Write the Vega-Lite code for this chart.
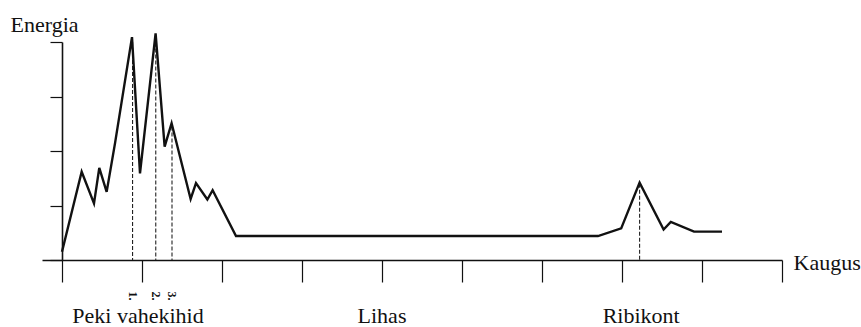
{
  "$schema": "https://vega.github.io/schema/vega-lite/v6.json",
  "width": 740,
  "height": 218,
  "autosize": {"type": "none"},
  "padding": {"left": 42, "top": 42, "right": 79, "bottom": 67},
  "background": "white",
  "config": {"view": {"stroke": null}, "font": "Liberation Serif"},
  "datasets": {
    "profile": [
      {"distance": 0, "energy": 0.15},
      {"distance": 0.246, "energy": 1.62},
      {"distance": 0.4, "energy": 1.04},
      {"distance": 0.466, "energy": 1.69},
      {"distance": 0.558, "energy": 1.25},
      {"distance": 0.6625, "energy": 2.14},
      {"distance": 0.875, "energy": 4.09},
      {"distance": 0.975, "energy": 1.59},
      {"distance": 1.17, "energy": 4.16},
      {"distance": 1.283, "energy": 2.08},
      {"distance": 1.37, "energy": 2.51},
      {"distance": 1.608, "energy": 1.12},
      {"distance": 1.675, "energy": 1.41},
      {"distance": 1.817, "energy": 1.11},
      {"distance": 1.883, "energy": 1.28},
      {"distance": 2.175, "energy": 0.44},
      {"distance": 6.7, "energy": 0.44},
      {"distance": 6.99, "energy": 0.58},
      {"distance": 7.22, "energy": 1.42},
      {"distance": 7.52, "energy": 0.56},
      {"distance": 7.61, "energy": 0.7},
      {"distance": 7.9, "energy": 0.52},
      {"distance": 8.25, "energy": 0.52}
    ],
    "markers": [
      {"distance": 0.882, "energy": 4.0, "label": "1."},
      {"distance": 1.172, "energy": 4.1, "label": "2."},
      {"distance": 1.375, "energy": 2.45, "label": "3."},
      {"distance": 7.22, "energy": 1.4, "label": ""}
    ],
    "regions": [
      {"distance": 0.95, "name": "Peki vahekihid"},
      {"distance": 4.0, "name": "Lihas"},
      {"distance": 7.24, "name": "Ribikont"}
    ]
  },
  "layer": [
    {
      "data": {"name": "markers"},
      "mark": {"type": "rule", "strokeDash": [4, 2], "color": "#222", "strokeWidth": 1.1},
      "encoding": {
        "x": {"field": "distance", "type": "quantitative"},
        "y": {"field": "energy", "type": "quantitative"},
        "y2": {"datum": 0}
      }
    },
    {
      "data": {"name": "profile"},
      "mark": {"type": "line", "color": "#111", "strokeWidth": 2.4, "strokeJoin": "miter"},
      "encoding": {
        "x": {
          "field": "distance",
          "type": "quantitative",
          "scale": {"domain": [-0.25, 9], "nice": false, "zero": false},
          "axis": {
            "values": [0, 1, 2, 3, 4, 5, 6, 7, 8, 9],
            "labels": false,
            "grid": false,
            "tickSize": 22,
            "tickColor": "#111",
            "tickWidth": 1.2,
            "domainColor": "#111",
            "domainWidth": 1.6,
            "title": "Kaugus",
            "titleFont": "Liberation Serif",
            "titleFontSize": 22,
            "titleFontWeight": "normal",
            "titleColor": "#111",
            "titleAngle": 0,
            "titleAlign": "left",
            "titleBaseline": "alphabetic",
            "titleX": 751,
            "titleY": 9
          }
        },
        "y": {
          "field": "energy",
          "type": "quantitative",
          "scale": {"domain": [0, 4], "nice": false},
          "axis": {
            "values": [0, 1, 2, 3, 4],
            "labels": false,
            "grid": false,
            "offset": -20,
            "tickSize": 12,
            "tickColor": "#111",
            "tickWidth": 1.2,
            "domainColor": "#111",
            "domainWidth": 1.6,
            "title": "Energia",
            "titleFont": "Liberation Serif",
            "titleFontSize": 22,
            "titleFontWeight": "normal",
            "titleColor": "#111",
            "titleAngle": 0,
            "titleAlign": "left",
            "titleBaseline": "alphabetic",
            "titleX": -52,
            "titleY": -11
          }
        }
      }
    },
    {
      "data": {"name": "markers"},
      "transform": [{"filter": "datum.label != ''"}],
      "mark": {"type": "text", "angle": 90, "fontSize": 12, "fontWeight": "bold", "color": "#111", "baseline": "middle", "align": "center", "font": "Liberation Serif"},
      "encoding": {
        "x": {"field": "distance", "type": "quantitative"},
        "y": {"datum": -0.66},
        "text": {"field": "label"}
      }
    },
    {
      "data": {"name": "regions"},
      "mark": {"type": "text", "fontSize": 22, "color": "#111", "baseline": "alphabetic", "align": "center", "font": "Liberation Serif"},
      "encoding": {
        "x": {"field": "distance", "type": "quantitative"},
        "y": {"datum": -1.15},
        "text": {"field": "name"}
      }
    }
  ]
}
